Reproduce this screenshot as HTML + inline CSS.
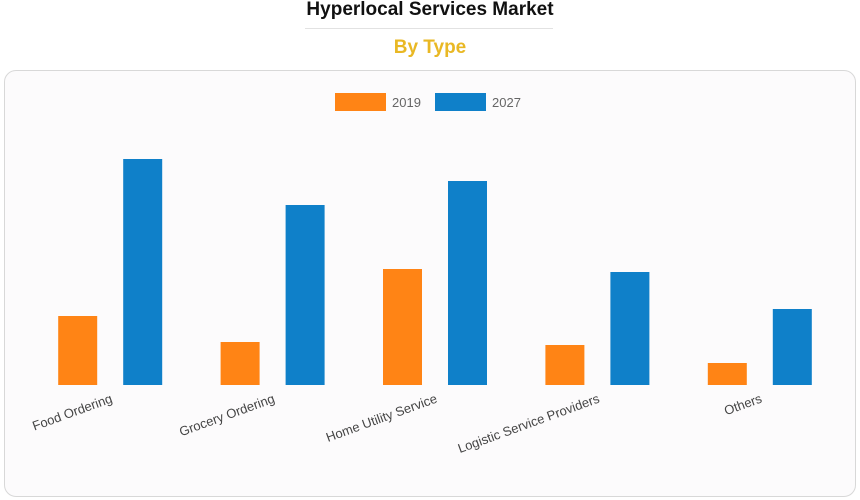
<!DOCTYPE html>
<html><head><meta charset="utf-8"><style>
body{margin:0;width:860px;height:500px;background:#fff;font-family:"Liberation Sans",sans-serif;overflow:hidden;position:relative}
#title{position:absolute;top:0;left:0;width:860px;text-align:center;font-size:19px;font-weight:bold;color:#111;line-height:20px}
#rule{position:absolute;top:28px;left:305px;width:248px;height:1px;background:#e2e2e2}
#sub{position:absolute;top:37px;left:0;width:860px;text-align:center;font-size:19px;font-weight:bold;color:#e9b824}
#card{position:absolute;left:4px;top:70px;width:850px;height:425px;border:1px solid #d8d8d8;border-radius:12px;background:#fcfbfc}
svg{position:absolute;left:0;top:0}
</style></head><body>
<div id="title">Hyperlocal Services Market</div>
<div id="rule"></div>
<div id="sub">By Type</div>
<div id="card"></div>
<svg id="chart" width="860" height="500">
<g>
<rect x="335" y="93" width="51" height="18" fill="#ff8415"/>
<text x="392" y="107" font-size="13" fill="#666">2019</text>
<rect x="435" y="93" width="51" height="18" fill="#0f80c9"/>
<text x="492" y="107" font-size="13" fill="#666">2027</text>
</g>
</svg>
<script>
const categories=["Food Ordering","Grocery Ordering","Home Utility Service","Logistic Service Providers","Others"];
const values2019=[69,43,116,40,22];
const values2027=[226,180,204,113,76];
const svg=document.getElementById('chart');
const NS='http://www.w3.org/2000/svg';
const baseY=385, plotLeft=29, plotW=812, maxV=240, plotH=240;
const band=plotW/categories.length;
function xCenter(i){return plotLeft+band*(i+0.5);}
function yScale(v){return baseY-v/maxV*plotH;}
categories.forEach((c,i)=>{
  const cx=xCenter(i);
  [[values2019,'#ff8415',-52,'2019'],[values2027,'#0f80c9',13,'2027']].forEach(([arr,col,off,s])=>{
    const r=document.createElementNS(NS,'rect');
    r.setAttribute('x',cx+off);r.setAttribute('width',39);
    r.setAttribute('y',yScale(arr[i]));r.setAttribute('height',baseY-yScale(arr[i]));
    r.setAttribute('fill',col);
    
    
    svg.appendChild(r);
  });
  const t=document.createElementNS(NS,'text');
  t.setAttribute('x',cx+3);t.setAttribute('y',402);
  t.setAttribute('text-anchor','end');t.setAttribute('font-size','13');t.setAttribute('fill','#444');
  t.setAttribute('transform','rotate(-20 '+(cx+3)+' 402)');
  t.textContent=c;
  
  
  svg.appendChild(t);
});
</script>
</body></html>
